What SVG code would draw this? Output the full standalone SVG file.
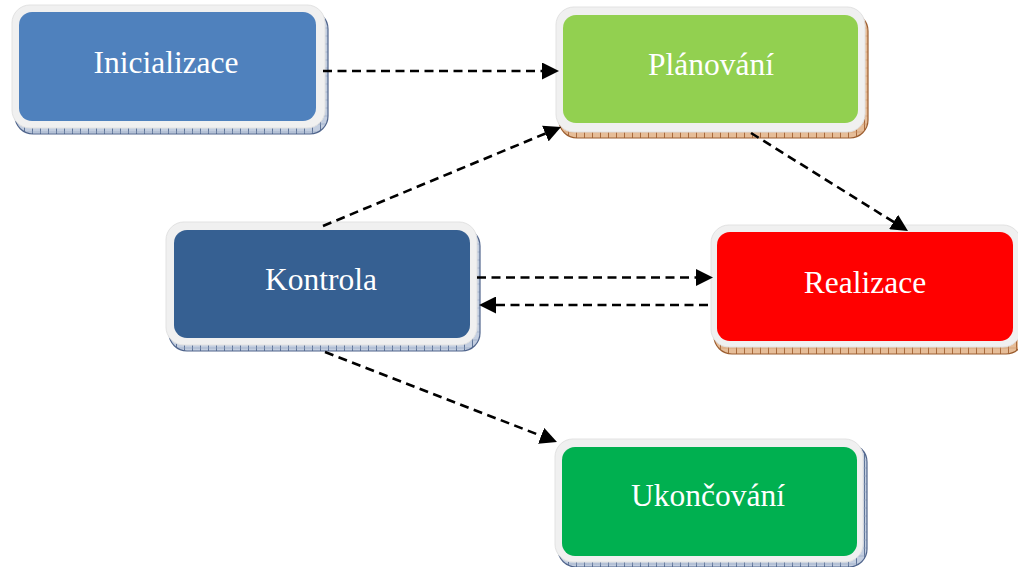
<svg xmlns="http://www.w3.org/2000/svg" width="1018" height="567" viewBox="0 0 1018 567">
<defs>
<pattern id="hb" width="8" height="8" patternUnits="userSpaceOnUse">
<rect width="8" height="8" fill="#c3cee0"/>
<line x1="0.5" y1="0" x2="0.5" y2="8" stroke="#5f7599" stroke-width="1"/>
<line x1="0" y1="4" x2="8" y2="4" stroke="#8ea1bf" stroke-width="0.6"/>
</pattern>
<pattern id="ho" width="8" height="8" patternUnits="userSpaceOnUse">
<rect width="8" height="8" fill="#e6bd98"/>
<line x1="0.5" y1="0" x2="0.5" y2="8" stroke="#a96a3c" stroke-width="1"/>
<line x1="0" y1="4" x2="8" y2="4" stroke="#cc9466" stroke-width="0.6"/>
</pattern>
<marker id="ah" viewBox="0 0 17 17" markerWidth="17" markerHeight="17" refX="11" refY="8.5" orient="auto" markerUnits="userSpaceOnUse">
<path d="M0,0 L17,8.5 L0,17 z" fill="#000"/>
</marker>
</defs>
<style>
.sb{fill:url(#hb);stroke:#50658c;stroke-width:1.2}
.so{fill:url(#ho);stroke:#9c5e30;stroke-width:1.2}
.fr{fill:#f0f0f0;stroke:#e2e2e2;stroke-width:1}
.lb{font-family:"Liberation Serif","Times New Roman",serif;font-size:31.5px;fill:#ffffff;text-anchor:middle}
.cn{fill:none;stroke:#000;stroke-width:2.6;stroke-dasharray:9,5.5;marker-end:url(#ah)}
</style>
<rect width="1018" height="567" fill="#ffffff"/>
<g id="inicializace">
<rect class="sb" x="15" y="11" width="313" height="123" rx="18"/>
<rect class="fr" x="12" y="5" width="313" height="123" rx="18"/>
<rect x="19" y="12" width="297" height="109" rx="13" fill="#4f81bd"/>
<text class="lb" x="166" y="73">Inicializace</text>
</g>
<g id="planovani">
<rect class="so" x="559" y="13" width="309" height="125" rx="18"/>
<rect class="fr" x="556" y="7" width="309" height="125" rx="18"/>
<rect x="563" y="15" width="295" height="108" rx="13" fill="#92d050"/>
<text class="lb" x="711" y="75">Plánování</text>
</g>
<g id="kontrola">
<rect class="sb" x="169" y="228" width="311" height="123" rx="18"/>
<rect class="fr" x="166" y="222" width="311" height="123" rx="18"/>
<rect x="174" y="230" width="296" height="108" rx="13" fill="#366092"/>
<text class="lb" x="321" y="290">Kontrola</text>
</g>
<g id="realizace">
<rect class="so" x="714" y="231" width="310" height="123" rx="18"/>
<rect class="fr" x="711" y="225" width="310" height="122" rx="18"/>
<rect x="717" y="232" width="296" height="109" rx="13" fill="#ff0000"/>
<text class="lb" x="865" y="293">Realizace</text>
</g>
<g id="ukoncovani">
<rect class="sb" x="558" y="444" width="309" height="123" rx="18"/>
<rect class="fr" x="555" y="439" width="308" height="123" rx="18"/>
<rect x="562" y="447" width="295" height="109" rx="13" fill="#00b050"/>
<text class="lb" x="708" y="506">Ukončování</text>
</g>
<g id="connectors">
<line class="cn" x1="323" y1="71" x2="553" y2="71"/>
<line class="cn" x1="323" y1="226" x2="555.5" y2="129.3"/>
<line class="cn" x1="751" y1="133" x2="902.9" y2="227.8"/>
<line class="cn" x1="477" y1="277.5" x2="707" y2="277.5"/>
<line class="cn" x1="708" y1="305" x2="485" y2="305"/>
<line class="cn" x1="325" y1="352" x2="551.4" y2="439.8"/>
</g>
</svg>
